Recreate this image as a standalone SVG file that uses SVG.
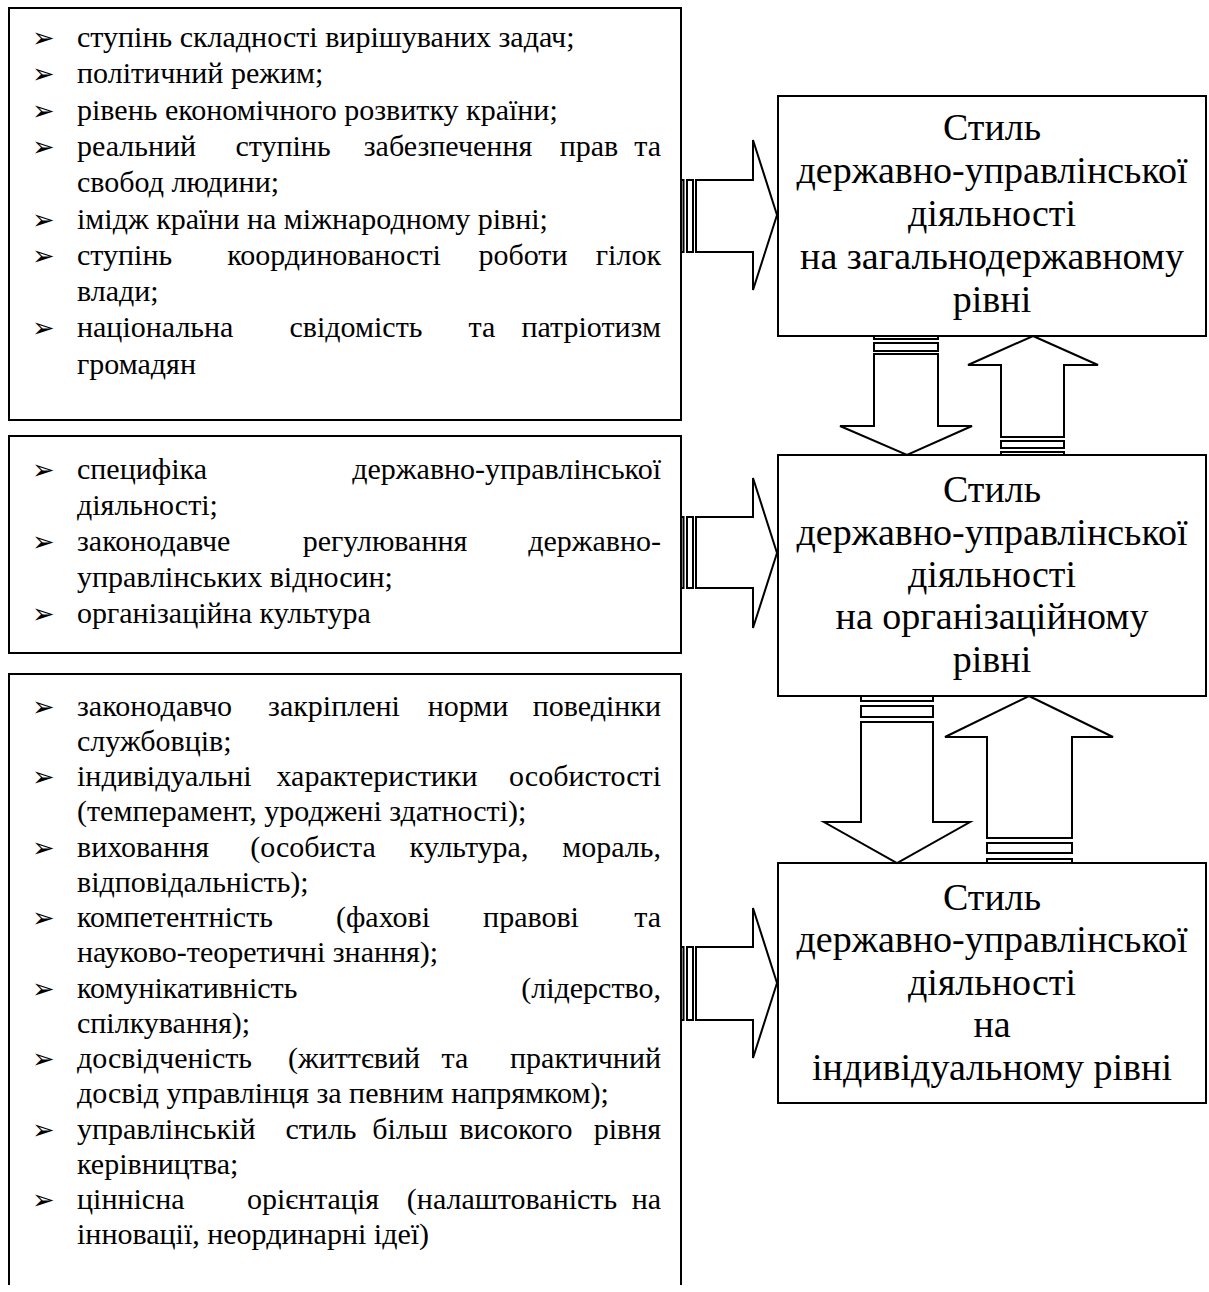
<svg xmlns="http://www.w3.org/2000/svg" width="1209" height="1292" viewBox="0 0 1209 1292">
<style>
.box{fill:#fff;stroke:#000;stroke-width:2}
.open{fill:none;stroke:#000;stroke-width:2}
.arr{fill:#fff;stroke:#000;stroke-width:2;stroke-linejoin:miter}
.t{font-family:"Liberation Serif","Times New Roman",serif;font-size:30px;fill:#000}
.e{text-anchor:end}
.m{text-anchor:middle}
.b{font-family:"DejaVu Sans",sans-serif;font-size:27px;fill:#000}
.h{font-family:"Liberation Serif","Times New Roman",serif;font-size:38px;fill:#000;text-anchor:middle}
</style>
<rect width="1209" height="1292" fill="#fff"/>

<g id="factors-state">
<rect class="box" x="9" y="8" width="672" height="412"/>
<text class="b" x="32" y="47">➢</text><text class="t" x="77" y="47">ступінь складності вирішуваних задач;</text>
<text class="b" x="32" y="83">➢</text><text class="t" x="77" y="83">політичний режим;</text>
<text class="b" x="32" y="120">➢</text><text class="t" x="77" y="120">рівень економічного розвитку країни;</text>
<text class="b" x="32" y="156">➢</text><text class="t" y="156"><tspan x="77">реальний</tspan><tspan x="283" class="m">ступінь</tspan><tspan x="448" class="m">забезпечення</tspan><tspan x="589" class="m">прав</tspan><tspan x="661" class="e">та</tspan></text>
<text class="t" x="77" y="192">свобод людини;</text>
<text class="b" x="32" y="229">➢</text><text class="t" x="77" y="229">імідж країни на міжнародному рівні;</text>
<text class="b" x="32" y="265">➢</text><text class="t" y="265"><tspan x="77">ступінь</tspan><tspan x="334" class="m">координованості</tspan><tspan x="523" class="m">роботи</tspan><tspan x="661" class="e">гілок</tspan></text>
<text class="t" x="77" y="301">влади;</text>
<text class="b" x="32" y="337">➢</text><text class="t" y="337"><tspan x="77">національна</tspan><tspan x="356" class="m">свідомість</tspan><tspan x="482" class="m">та</tspan><tspan x="661" class="e">патріотизм</tspan></text>
<text class="t" x="77" y="374">громадян</text>
</g>

<g id="factors-org">
<rect class="box" x="9" y="436" width="672" height="217"/>
<text class="b" x="32" y="479">➢</text><text class="t" y="479"><tspan x="77">специфіка</tspan><tspan x="661" class="e">державно-управлінської</tspan></text>
<text class="t" x="77" y="515">діяльності;</text>
<text class="b" x="32" y="551">➢</text><text class="t" y="551"><tspan x="77">законодавче</tspan><tspan x="385" class="m">регулювання</tspan><tspan x="661" class="e">державно-</tspan></text>
<text class="t" x="77" y="587">управлінських відносин;</text>
<text class="b" x="32" y="623">➢</text><text class="t" x="77" y="623">організаційна культура</text>
</g>

<g id="factors-ind">
<path class="open" d="M9 1285 V674 H681 V1285"/>
<text class="b" x="32" y="716">➢</text><text class="t" y="716"><tspan x="77">законодавчо</tspan><tspan x="334" class="m">закріплені</tspan><tspan x="468" class="m">норми</tspan><tspan x="661" class="e">поведінки</tspan></text>
<text class="t" x="77" y="751">службовців;</text>
<text class="b" x="32" y="786">➢</text><text class="t" y="786"><tspan x="77">індивідуальні</tspan><tspan x="377" class="m">характеристики</tspan><tspan x="661" class="e">особистості</tspan></text>
<text class="t" x="77" y="821">(темперамент, уроджені здатності);</text>
<text class="b" x="32" y="857">➢</text><text class="t" y="857"><tspan x="77">виховання</tspan><tspan x="313" class="m">(особиста</tspan><tspan x="469" class="m">культура,</tspan><tspan x="661" class="e">мораль,</tspan></text>
<text class="t" x="77" y="892">відповідальність);</text>
<text class="b" x="32" y="927">➢</text><text class="t" y="927"><tspan x="77">компетентність</tspan><tspan x="383" class="m">(фахові</tspan><tspan x="531" class="m">правові</tspan><tspan x="661" class="e">та</tspan></text>
<text class="t" x="77" y="962">науково-теоретичні знання);</text>
<text class="b" x="32" y="998">➢</text><text class="t" y="998"><tspan x="77">комунікативність</tspan><tspan x="661" class="e">(лідерство,</tspan></text>
<text class="t" x="77" y="1033">спілкування);</text>
<text class="b" x="32" y="1068">➢</text><text class="t" y="1068"><tspan x="77">досвідченість</tspan><tspan x="354" class="m">(життєвий</tspan><tspan x="455" class="m">та</tspan><tspan x="661" class="e">практичний</tspan></text>
<text class="t" x="77" y="1103">досвід управлінця за певним напрямком);</text>
<text class="b" x="32" y="1139">➢</text><text class="t" y="1139"><tspan x="77">управлінській</tspan><tspan x="321" class="m">стиль</tspan><tspan x="410" class="m">більш</tspan><tspan x="516" class="m">високого</tspan><tspan x="661" class="e">рівня</tspan></text>
<text class="t" x="77" y="1174">керівництва;</text>
<text class="b" x="32" y="1209">➢</text><text class="t" y="1209"><tspan x="77">ціннісна</tspan><tspan x="313" class="m">орієнтація</tspan><tspan x="512" class="m">(налаштованість</tspan><tspan x="661" class="e">на</tspan></text>
<text class="t" x="77" y="1244">інновації, неординарні ідеї)</text>
</g>

<g id="style-state">
<rect class="box" x="778" y="96" width="428" height="240"/>
<text class="h" x="992" y="140">Стиль</text>
<text class="h" x="992" y="183">державно-управлінської</text>
<text class="h" x="992" y="226">діяльності</text>
<text class="h" x="992" y="269">на загальнодержавному</text>
<text class="h" x="992" y="312">рівні</text>
</g>

<g id="style-org">
<rect class="box" x="778" y="455" width="428" height="241"/>
<text class="h" x="992" y="502">Стиль</text>
<text class="h" x="992" y="545">державно-управлінської</text>
<text class="h" x="992" y="587">діяльності</text>
<text class="h" x="992" y="629">на організаційному</text>
<text class="h" x="992" y="672">рівні</text>
</g>

<g id="style-ind">
<rect class="box" x="778" y="863" width="428" height="240"/>
<text class="h" x="992" y="910">Стиль</text>
<text class="h" x="992" y="952">державно-управлінської</text>
<text class="h" x="992" y="995">діяльності</text>
<text class="h" x="992" y="1037">на</text>
<text class="h" x="992" y="1080">індивідуальному рівні</text>
</g>

<g id="connectors">
<rect class="arr" x="681" y="180" width="2.5" height="72"/>
<rect class="arr" x="687" y="180" width="6" height="72"/>
<path class="arr" d="M696 180 H753 V140 L777 215 L753 290 V252 H696 Z"/>

<rect class="arr" x="681" y="517" width="2.5" height="71"/>
<rect class="arr" x="687" y="517" width="6" height="71"/>
<path class="arr" d="M696 517 H753 V478 L777 553 L753 628 V588 H696 Z"/>

<rect class="arr" x="681" y="947" width="2.5" height="73"/>
<rect class="arr" x="687" y="947" width="6" height="73"/>
<path class="arr" d="M696 947 H753 V908 L777 983 L753 1058 V1020 H696 Z"/>

<rect class="arr" x="874" y="336" width="64" height="3"/>
<rect class="arr" x="874" y="343" width="64" height="8"/>
<path class="arr" d="M874 354 H938 V426 H972 L907 455 L840 426 H874 Z"/>
<path class="arr" d="M1033 336 L1098 365 H1064 V437 H1001 V365 H968 Z"/>
<rect class="arr" x="1001" y="441" width="63" height="7"/>
<rect class="arr" x="1001" y="452" width="63" height="3"/>

<rect class="arr" x="861" y="696" width="72" height="5"/>
<rect class="arr" x="861" y="706" width="72" height="11"/>
<path class="arr" d="M861 722 H933 V822 H970 L897 863 L824 822 H861 Z"/>
<path class="arr" d="M1029 696 L1113 737 H1072 V838 H987 V737 H945 Z"/>
<rect class="arr" x="987" y="843" width="85" height="10"/>
<rect class="arr" x="987" y="859" width="85" height="4"/>
</g>
</svg>
